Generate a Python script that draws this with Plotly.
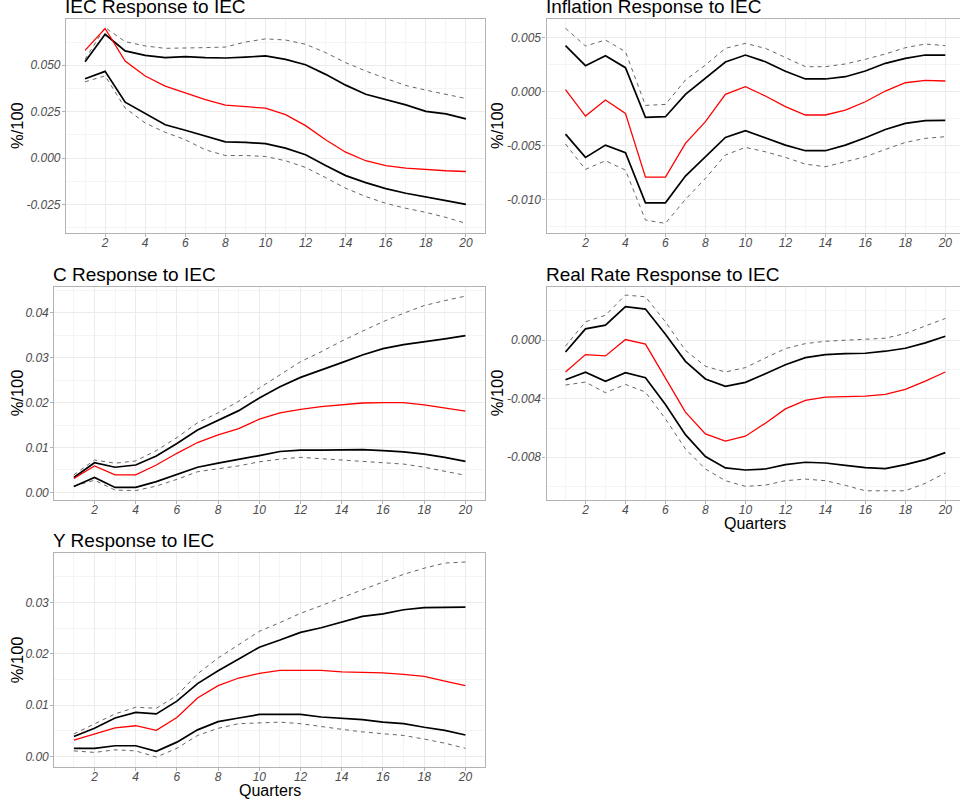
import plotly.graph_objects as go

# Impulse responses to an IEC shock, 20 quarters, with inner (solid) and outer (dashed) bands
quarters = list(range(1, 21))

iec_irf = [0.0580, 0.0698, 0.0523, 0.0442, 0.0388, 0.0351, 0.0315, 0.0285, 0.0279, 0.0269,
           0.0234, 0.0175, 0.0099, 0.0032, -0.0014, -0.0040, -0.0054, -0.0063, -0.0068, -0.0072]
iec_hi = [0.0519, 0.0667, 0.0577, 0.0553, 0.0541, 0.0546, 0.0541, 0.0539, 0.0544, 0.0550,
          0.0532, 0.0503, 0.0451, 0.0393, 0.0344, 0.0315, 0.0287, 0.0252, 0.0238, 0.0211]
iec_lo = [0.0427, 0.0467, 0.0301, 0.0240, 0.0180, 0.0150, 0.0117, 0.0088, 0.0085, 0.0078,
          0.0054, 0.0018, -0.0040, -0.0094, -0.0132, -0.0164, -0.0189, -0.0207, -0.0229, -0.0249]
iec_hi_outer = [0.0532, 0.0703, 0.0627, 0.0604, 0.0591, 0.0595, 0.0595, 0.0598, 0.0625, 0.0642,
                0.0636, 0.0613, 0.0568, 0.0514, 0.0469, 0.0429, 0.0391, 0.0366, 0.0344, 0.0321]
iec_lo_outer = [0.0411, 0.0443, 0.0270, 0.0189, 0.0139, 0.0099, 0.0045, 0.0014, 0.0014, 0.0009,
                -0.0014, -0.0050, -0.0105, -0.0162, -0.0207, -0.0243, -0.0270, -0.0292, -0.0319, -0.0351]

inf_irf = [0.0002, -0.00226, -0.00077, -0.00201, -0.00792, -0.00792, -0.00479, -0.00278, -0.00025, 0.00046,
           -0.0004, -0.00139, -0.00216, -0.00216, -0.0017, -0.00093, 0.00006, 0.00083, 0.00105, 0.00099]
inf_hi = [0.00427, 0.00241, 0.00334, 0.00223, -0.00238, -0.00232, -0.00025, 0.00124, 0.00275, 0.0034,
          0.00278, 0.00189, 0.00118, 0.00118, 0.00139, 0.00192, 0.00263, 0.00309, 0.0034, 0.0034]
inf_lo = [-0.00393, -0.00609, -0.00495, -0.00566, -0.0103, -0.0103, -0.00782, -0.00603, -0.00424, -0.00362,
          -0.00427, -0.00495, -0.00547, -0.00547, -0.00495, -0.00427, -0.0035, -0.00294, -0.00269, -0.00266]
inf_hi_outer = [0.00588, 0.00424, 0.00479, 0.00371, -0.00127, -0.00118, 0.00108, 0.00247, 0.00402, 0.00448,
                0.00402, 0.00319, 0.00232, 0.00232, 0.00257, 0.003, 0.0035, 0.00408, 0.00442, 0.00427]
inf_lo_outer = [-0.00485, -0.0072, -0.0064, -0.00727, -0.0119, -0.01221, -0.00999, -0.00804, -0.00587, -0.00516,
                -0.00557, -0.00609, -0.00671, -0.00696, -0.00649, -0.00603, -0.00535, -0.0047, -0.00433, -0.00417]

c_irf = [0.0031, 0.0059, 0.0039, 0.0039, 0.0061, 0.0087, 0.0111, 0.0128, 0.0142, 0.0163,
         0.0177, 0.0185, 0.0191, 0.0195, 0.0199, 0.0200, 0.0200, 0.0195, 0.0188, 0.0181]
c_hi = [0.0033, 0.0066, 0.0056, 0.0061, 0.0081, 0.0109, 0.0139, 0.0161, 0.0182, 0.0210,
        0.0235, 0.0256, 0.0272, 0.0289, 0.0306, 0.0320, 0.0329, 0.0335, 0.0342, 0.0349]
c_lo = [0.0013, 0.0033, 0.0011, 0.0011, 0.0024, 0.0040, 0.0056, 0.0065, 0.0073, 0.0082,
        0.0091, 0.0094, 0.0094, 0.0094, 0.0095, 0.0093, 0.0090, 0.0085, 0.0078, 0.0069]
c_hi_outer = [0.0039, 0.0072, 0.0065, 0.0070, 0.0093, 0.0122, 0.0155, 0.0177, 0.0203, 0.0233,
              0.0263, 0.0291, 0.0313, 0.0337, 0.0359, 0.0380, 0.0399, 0.0416, 0.0427, 0.0437]
c_lo_outer = [0.0014, 0.0027, 0.0005, 0.0004, 0.0014, 0.0029, 0.0046, 0.0053, 0.0059, 0.0068,
              0.0074, 0.0078, 0.0075, 0.0073, 0.0069, 0.0066, 0.0063, 0.0056, 0.0047, 0.0038]

rr_irf = [-0.00217, -0.00098, -0.00107, 0.00005, -0.00027, -0.00263, -0.00491, -0.0064, -0.0069, -0.00656,
          -0.00567, -0.00469, -0.00411, -0.00389, -0.00384, -0.00382, -0.0037, -0.00336, -0.00279, -0.00217]
rr_hi = [-0.0008, 0.00078, 0.00103, 0.00229, 0.00213, 0.00041, -0.00144, -0.00265, -0.00315, -0.00288,
         -0.00229, -0.00167, -0.00119, -0.00098, -0.00091, -0.00089, -0.00075, -0.00055, -0.00018, 0.00027]
rr_lo = [-0.0027, -0.00219, -0.00281, -0.00222, -0.00256, -0.00439, -0.00645, -0.00795, -0.00873, -0.00887,
         -0.0088, -0.0085, -0.00834, -0.00839, -0.00855, -0.00871, -0.00878, -0.0085, -0.00816, -0.00768]
rr_hi_outer = [-0.00041, 0.00126, 0.00171, 0.00309, 0.00297, 0.00126, -0.00069, -0.00178, -0.00217, -0.00187,
               -0.00121, -0.00057, -0.00023, -0.00007, 0.0, 0.00005, 0.00014, 0.00046, 0.00096, 0.00149]
rr_lo_outer = [-0.00306, -0.00286, -0.00359, -0.00302, -0.00354, -0.00537, -0.00743, -0.0088, -0.0096, -0.00999,
               -0.0099, -0.0096, -0.00949, -0.0096, -0.00992, -0.01029, -0.01029, -0.01029, -0.00978, -0.00907]

y_irf = [0.0032, 0.0044, 0.0056, 0.0060, 0.0051, 0.0076, 0.0114, 0.0138, 0.0153, 0.0162,
         0.0168, 0.0168, 0.0168, 0.0165, 0.0164, 0.0163, 0.0160, 0.0156, 0.0147, 0.0138]
y_hi = [0.0039, 0.0055, 0.0075, 0.0086, 0.0083, 0.0108, 0.0142, 0.0167, 0.0190, 0.0213,
        0.0227, 0.0242, 0.0251, 0.0262, 0.0273, 0.0278, 0.0286, 0.0290, 0.0291, 0.0291]
y_lo = [0.0016, 0.0016, 0.0021, 0.0021, 0.0010, 0.0028, 0.0052, 0.0068, 0.0075, 0.0082,
        0.0082, 0.0082, 0.0077, 0.0075, 0.0072, 0.0067, 0.0064, 0.0057, 0.0051, 0.0042]
y_hi_outer = [0.0044, 0.0064, 0.0083, 0.0096, 0.0094, 0.0119, 0.0161, 0.0192, 0.0218, 0.0244,
              0.0261, 0.0279, 0.0294, 0.0310, 0.0325, 0.0340, 0.0355, 0.0367, 0.0377, 0.0379]
y_lo_outer = [0.0011, 0.0008, 0.0013, 0.0011, -0.0001, 0.0016, 0.0041, 0.0055, 0.0064, 0.0066,
              0.0067, 0.0064, 0.0058, 0.0053, 0.0048, 0.0045, 0.0041, 0.0034, 0.0026, 0.0016]

# Tick values and labels
x_ticks = list(range(2, 21, 2))
x_labels = [str(v) for v in x_ticks]
iec_ticks = [-0.025, 0.0, 0.025, 0.050]
iec_labels = ["-0.025", "0.000", "0.025", "0.050"]
inf_ticks = [-0.010, -0.005, 0.0, 0.005]
inf_labels = ["-0.010", "-0.005", "0.000", "0.005"]
c_ticks = [0.00, 0.01, 0.02, 0.03, 0.04]
c_labels = ["0.00", "0.01", "0.02", "0.03", "0.04"]
rr_ticks = [-0.008, -0.004, 0.0]
rr_labels = ["-0.008", "-0.004", "0.000"]
y_ticks = [0.00, 0.01, 0.02, 0.03]
y_labels = ["0.00", "0.01", "0.02", "0.03"]

W, H = 960, 801
FONT = "Liberation Sans, Arial, sans-serif"
BORDER = "#b3b3b3"
GRID = "#ebebeb"
GRID_MINOR = "#f4f4f4"


def px_x(p):
    return p / W


def px_y(p):
    return 1 - p / H


def minor_of(ticks):
    step = ticks[1] - ticks[0]
    vals = [ticks[0] - step / 2] + [t + step / 2 for t in ticks]
    return vals


# Panel definitions: title, series, y ticks, y range, pixel box (left, right, top, bottom)
panels = [
    dict(title="IEC Response to IEC", s=(iec_irf, iec_hi, iec_lo, iec_hi_outer, iec_lo_outer),
         ticks=iec_ticks, labels=iec_labels, yr=[-0.0403, 0.0749], xr=[0.05, 20.95],
         box=(66, 485, 19, 233), col=0, xtitle=False),
    dict(title="Inflation Response to IEC", s=(inf_irf, inf_hi, inf_lo, inf_hi_outer, inf_lo_outer),
         ticks=inf_ticks, labels=inf_labels, yr=[-0.0131, 0.00674], xr=[0.05, 20.735],
         box=(546.5, 960, 19, 233), col=1, xtitle=False),
    dict(title="C Response to IEC", s=(c_irf, c_hi, c_lo, c_hi_outer, c_lo_outer),
         ticks=c_ticks, labels=c_labels, yr=[-0.0017, 0.0458], xr=[0.05, 20.95],
         box=(54.3, 485, 286.7, 500), col=0, xtitle=False),
    dict(title="Real Rate Response to IEC", s=(rr_irf, rr_hi, rr_lo, rr_hi_outer, rr_lo_outer),
         ticks=rr_ticks, labels=rr_labels, yr=[-0.01092, 0.00366], xr=[0.05, 20.735],
         box=(546.5, 960, 286.7, 500), col=1, xtitle=True),
    dict(title="Y Response to IEC", s=(y_irf, y_hi, y_lo, y_hi_outer, y_lo_outer),
         ticks=y_ticks, labels=y_labels, yr=[-0.0021, 0.0396], xr=[0.05, 20.95],
         box=(54.3, 485, 553.3, 767.3), col=0, xtitle=True),
]

fig = go.Figure()
annotations = []
layout_axes = {}

for i, p in enumerate(panels, start=1):
    xa = "x" if i == 1 else f"x{i}"
    ya = "y" if i == 1 else f"y{i}"
    irf, hi, lo, hi_o, lo_o = p["s"]
    for band in (hi_o, lo_o):
        fig.add_trace(go.Scatter(x=quarters, y=band, mode="lines", xaxis=xa, yaxis=ya,
                                 line=dict(color="#555555", width=0.9, dash="4px,4px"),
                                 showlegend=False, hoverinfo="skip"))
    for band in (hi, lo):
        fig.add_trace(go.Scatter(x=quarters, y=band, mode="lines", xaxis=xa, yaxis=ya,
                                 line=dict(color="black", width=1.7),
                                 showlegend=False, hoverinfo="skip"))
    fig.add_trace(go.Scatter(x=quarters, y=irf, mode="lines", xaxis=xa, yaxis=ya,
                             line=dict(color="#ff0000", width=1.3),
                             showlegend=False, hoverinfo="skip"))

    left, right, top, bottom = p["box"]
    xdom = [px_x(left), px_x(right)]
    ydom = [px_y(bottom), px_y(top)]
    tickfont = dict(family=FONT, size=12, color="#4d4d4d", style="italic")
    layout_axes["xaxis" if i == 1 else f"xaxis{i}"] = dict(
        domain=xdom, range=p["xr"], anchor=ya,
        tickmode="array", tickvals=x_ticks, ticktext=x_labels,
        ticks="outside", ticklen=3, tickcolor=BORDER, tickwidth=1,
        ticklabelstandoff=-5,
        showgrid=True, gridcolor=GRID, gridwidth=1, zeroline=False,
        minor=dict(tickmode="array", tickvals=list(range(1, 22, 2)), showgrid=True,
                   gridcolor=GRID_MINOR, gridwidth=1, ticks=""),
        showline=True, linecolor=BORDER, linewidth=1.2, mirror=True,
        tickfont=tickfont, fixedrange=True,
    )
    layout_axes["yaxis" if i == 1 else f"yaxis{i}"] = dict(
        domain=ydom, range=p["yr"], anchor=xa,
        tickmode="array", tickvals=p["ticks"], ticktext=p["labels"],
        ticks="outside", ticklen=3, tickcolor=BORDER, tickwidth=1,
        ticklabelstandoff=-1,
        showgrid=True, gridcolor=GRID, gridwidth=1, zeroline=False,
        minor=dict(tickmode="array", tickvals=minor_of(p["ticks"]), showgrid=True,
                   gridcolor=GRID_MINOR, gridwidth=1, ticks=""),
        showline=True, linecolor=BORDER, linewidth=1.2, mirror=(p["col"] == 0),
        tickfont=tickfont, fixedrange=True,
    )

    # Panel title
    annotations.append(dict(text=p["title"], x=xdom[0], y=ydom[1], xref="paper", yref="paper",
                            xanchor="left", yanchor="bottom", showarrow=False, xshift=-3, yshift=0,
                            font=dict(family=FONT, size=19, color="black")))
    # y-axis title
    ytitle_x = 17 if p["col"] == 0 else 497
    annotations.append(dict(text="%/100", x=px_x(ytitle_x), y=(ydom[0] + ydom[1]) / 2,
                            xref="paper", yref="paper", xanchor="center", yanchor="middle",
                            textangle=-90, showarrow=False,
                            font=dict(family=FONT, size=16.5, color="black")))
    # x-axis title
    if p["xtitle"]:
        xl, xr_ = p["xr"]
        center_val = (xl + 20.95) / 2
        frac = (center_val - xl) / (xr_ - xl)
        cx = xdom[0] + frac * (xdom[1] - xdom[0])
        annotations.append(dict(text="Quarters", x=cx, y=px_y(bottom + 13),
                                xref="paper", yref="paper", xanchor="center", yanchor="top",
                                showarrow=False,
                                font=dict(family=FONT, size=16, color="black")))

fig.update_layout(
    width=W, height=H,
    margin=dict(l=0, r=0, t=0, b=0),
    paper_bgcolor="white", plot_bgcolor="white",
    showlegend=False,
    annotations=annotations,
    font=dict(family=FONT),
    **layout_axes,
)

fig.write_html("out.html")
